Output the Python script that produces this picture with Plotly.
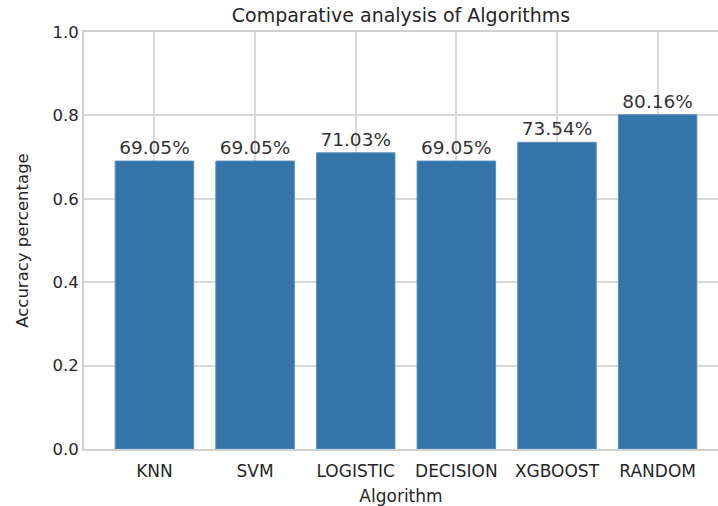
import plotly.graph_objects as go

algorithms = ["KNN", "SVM", "LOGISTIC", "DECISION", "XGBOOST", "RANDOM"]
accuracy = [0.6905, 0.6905, 0.7103, 0.6905, 0.7354, 0.8016]
labels = [f"{v*100:.2f}%" for v in accuracy]
y_ticks = [0.0, 0.2, 0.4, 0.6, 0.8, 1.0]

FONT = "DejaVu Sans"
fig = go.Figure(go.Bar(
    x=algorithms, y=accuracy, text=labels, textposition="outside",
    textfont=dict(size=18.5, color="#333333", family=FONT),
    marker=dict(color="#3574a9", line=dict(color="#5a8fc0", width=1)),
    width=0.78, cliponaxis=False, hoverinfo="skip",
))
fig.update_layout(
    width=718, height=506,
    margin=dict(l=84, r=0, t=32, b=57, autoexpand=False),
    plot_bgcolor="white", paper_bgcolor="white",
    font=dict(family=FONT, color="#333333", size=17),
    title=dict(text="Comparative analysis of Algorithms", x=0.5, xanchor="center",
               xref="paper", y=1 - 15 / 506, yref="container", yanchor="middle",
               font=dict(size=19, color="#262626"), automargin=False),
    showlegend=False,
)
fig.update_xaxes(range=[-0.7, 5.6], showgrid=True, gridcolor="#d9d9d9", gridwidth=1.5,
                 showline=True, linecolor="#d0d0d0", linewidth=2, mirror=True,
                 tickfont=dict(size=17, color="#262626"), automargin=False,
                 ticklabelstandoff=6,
                 title=dict(text="Algorithm", font=dict(size=17, color="#262626"), standoff=12),
                 ticks="", ticklen=0)
fig.update_yaxes(range=[0, 1.0], tickvals=y_ticks, ticktext=[f"{t:.1f}" for t in y_ticks],
                 showgrid=True, gridcolor="#d9d9d9", gridwidth=1.5,
                 showline=True, linecolor="#d0d0d0", linewidth=2, mirror=True,
                 zeroline=False, tickfont=dict(size=16.5, color="#262626"), ticks="",
                 automargin=False,
                 title=dict(text="Accuracy percentage", font=dict(size=16.5, color="#262626"), standoff=20))
fig.write_html("out.html", config={"displayModeBar": False},
               post_script="document.body.style.margin='0';document.body.style.overflow='hidden';")
